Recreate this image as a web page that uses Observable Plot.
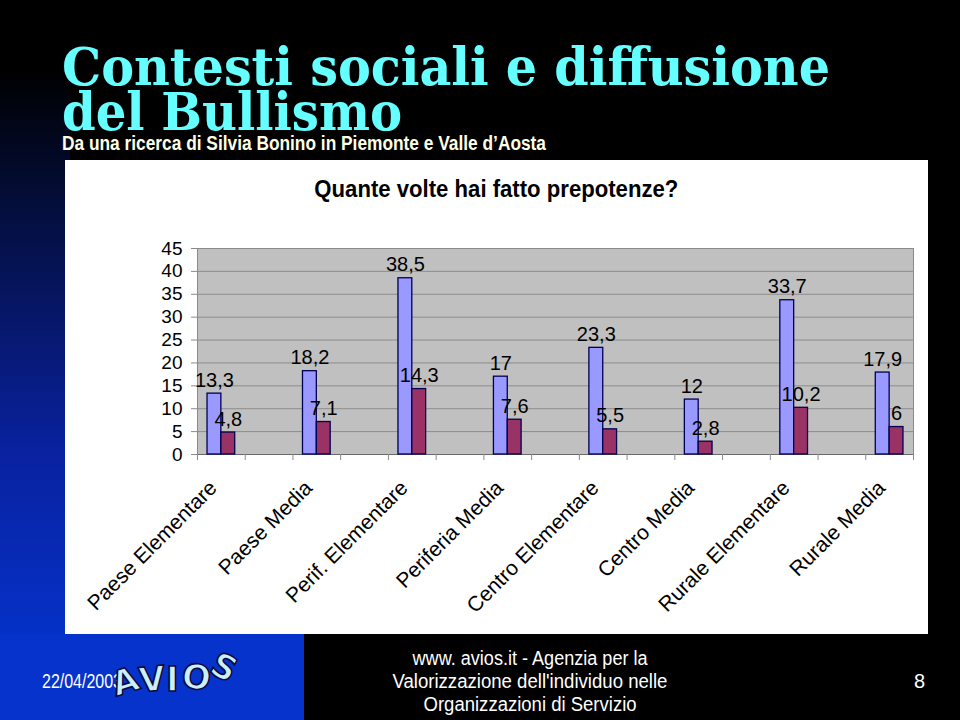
<!DOCTYPE html>
<html><head><meta charset="utf-8">
<script src="https://cdn.jsdelivr.net/npm/d3@7"></script>
<script src="https://cdn.jsdelivr.net/npm/@observablehq/plot@0.6"></script>
<style>
html,body{margin:0;padding:0;}
body{width:960px;height:720px;background:#000;position:relative;overflow:hidden;font-family:"Liberation Sans",Arial,sans-serif;}
.narrow{font-family:"Liberation Sans",Arial,sans-serif;}
#leftglow{position:absolute;left:0;top:70px;width:70px;height:590px;background:linear-gradient(to bottom,#000 0%,#040f40 25%,#0922a0 65%,#0533cc 100%);}
#footblue{position:absolute;left:0;top:634px;width:304px;height:86px;background:#0533cc;}
.tl{position:absolute;left:62px;color:#66ffff;font-family:"DejaVu Serif",serif;font-weight:bold;font-stretch:condensed;font-size:52px;line-height:42px;white-space:nowrap;transform-origin:0 0;}
#subtitle{position:absolute;left:62px;top:134px;color:#ffffe6;font-weight:bold;font-size:20px;line-height:18px;white-space:nowrap;transform-origin:0 0;}
#box{position:absolute;left:65px;top:160px;width:863px;height:474px;background:#fff;}
#ctitle{position:absolute;left:0;width:863px;top:17px;text-align:center;font-weight:bold;font-size:24px;line-height:24px;color:#000;}
#ctitle span{display:inline-block;white-space:nowrap;transform-origin:50% 0;}
#chart{position:absolute;left:0;top:70px;}
#date{position:absolute;left:42px;top:671px;color:#fff;font-size:20px;line-height:20px;white-space:nowrap;transform-origin:0 0;}
#logo{position:absolute;left:112px;top:656px;height:44px;width:135px;}
#logo span{position:absolute;font-family:"DejaVu Sans",sans-serif;font-weight:bold;font-size:34px;line-height:34px;color:#c8f0ff;-webkit-text-stroke:1.6px #0a0a40;}
#foot{position:absolute;left:330px;width:400px;top:647px;text-align:center;color:#fff;font-size:20px;line-height:23px;}
#foot div span{display:inline-block;white-space:nowrap;transform-origin:50% 0;}
#page{position:absolute;left:914px;top:671px;color:#fff;font-size:20px;line-height:20px;}
</style></head>
<body>
<div id="leftglow"></div>
<div id="footblue"></div>
<div class="tl" id="t1" style="top:46px">Contesti sociali e diffusione</div>
<div class="tl" id="t2" style="top:91px">del Bullismo</div>
<div id="subtitle" class="narrow">Da una ricerca di Silvia Bonino in Piemonte e Valle d’Aosta</div>
<div id="box">
  <div id="ctitle" class="narrow"><span id="ct">Quante volte hai fatto prepotenze?</span></div>
  <div id="chart"></div>
</div>
<div id="date" class="narrow">22/04/2003</div>
<div id="logo">
  <span style="left:0px;top:8px;transform:rotate(-18deg)">A</span>
  <span style="left:27px;top:6px;transform:rotate(-6deg)">V</span>
  <span style="left:54px;top:6px;">I</span>
  <span style="left:70px;top:4px;transform:rotate(8deg)">O</span>
  <span style="left:100px;top:-6px;transform:rotate(28deg)">S</span>
</div>
<div id="foot" class="narrow">
  <div><span id="f1">www. avios.it - Agenzia per la</span></div>
  <div><span id="f2">Valorizzazione dell'individuo nelle</span></div>
  <div><span id="f3">Organizzazioni di Servizio</span></div>
</div>
<div id="page" class="narrow">8</div>
<script>
// ---- data ----
const categories = ["Paese Elementare","Paese Media","Perif. Elementare","Periferia Media","Centro Elementare","Centro Media","Rurale Elementare","Rurale Media"];
const serie1 = [13.3, 18.2, 38.5, 17, 23.3, 12, 33.7, 17.9];
const serie2 = [4.8, 7.1, 14.3, 7.6, 5.5, 2.8, 10.2, 6];
const yTicks = [0, 5, 10, 15, 20, 25, 30, 35, 40, 45];

const fmt = v => String(v).replace(".", ",");
// 15 slots: each category followed by an empty slot
const domain = categories.flatMap((c, i) => i < categories.length - 1 ? [c, "gap" + i] : [c]);
const rows1 = categories.map((c, i) => ({cat: c, value: serie1[i]}));
const rows2 = categories.map((c, i) => ({cat: c, value: serie2[i]}));

const W = 863, H = 400, ML = 132, MR = 15, MT = 18, MB = 176;
const bw = (W - ML - MR) / domain.length;

const chart = Plot.plot({
  width: W, height: H,
  marginLeft: ML, marginRight: MR, marginTop: MT, marginBottom: MB,
  style: {fontFamily: "'Liberation Sans', Arial, sans-serif", background: "transparent", color: "#000", overflow: "visible"},
  x: {domain, padding: 0, round: false, axis: null},
  y: {domain: [0, 45], axis: null},
  marks: [
    Plot.frame({fill: "#c0c0c0", stroke: "#8a8a8a"}),
    Plot.gridY(yTicks.filter(t => t > 0 && t < 45), {stroke: "#8c8c8c", strokeOpacity: 1}),
    Plot.ruleY([0], {stroke: "#6a6a6a"}),
    Plot.barY(rows1, {x: "cat", y: "value", fill: "#9999ff", stroke: "#000050", strokeWidth: 1.3, insetLeft: bw * 0.21, insetRight: bw * 0.5}),
    Plot.barY(rows2, {x: "cat", y: "value", fill: "#993366", stroke: "#000050", strokeWidth: 1.3, insetLeft: bw * 0.5, insetRight: bw * 0.21}),
    Plot.text(rows1, {x: "cat", y: "value", text: d => fmt(d.value), dx: -bw * 0.145, dy: -7, lineAnchor: "bottom", fontSize: 20, fill: "#000"}),
    Plot.text(rows2, {x: "cat", y: "value", text: d => fmt(d.value), dx: bw * 0.145, dy: -7, lineAnchor: "bottom", fontSize: 20, fill: "#000"}),
    Plot.axisY({ticks: yTicks, tickSize: 6, tickPadding: 9, fontSize: 19, stroke: "#8a8a8a", label: null}),
    Plot.axisX({ticks: domain, tickSize: 6, tickFormat: () => "", dx: -bw / 2, stroke: "#8a8a8a", label: null}),
    Plot.axisX({ticks: [domain[domain.length - 1]], tickSize: 6, tickFormat: () => "", dx: bw / 2, stroke: "#8a8a8a", label: null}),
    Plot.axisX({ticks: categories, tickSize: 0, tickRotate: -45, tickPadding: 30, dx: -8, fontSize: 21, fill: "#000", label: null})
  ]
});
document.getElementById("chart").appendChild(chart);

function fit(el, target) {
  el.style.display = "inline-block";
  const w = el.getBoundingClientRect().width;
  if (w > 0) el.style.transform = `scaleX(${target / w})`;
}
fit(document.getElementById("t1"), 768);
fit(document.getElementById("t2"), 340);
fit(document.getElementById("subtitle"), 484);
fit(document.getElementById("ct"), 364);
fit(document.getElementById("f1"), 235);
fit(document.getElementById("f2"), 275);
fit(document.getElementById("f3"), 213);
fit(document.getElementById("date"), 80);
</script>
</body></html>
